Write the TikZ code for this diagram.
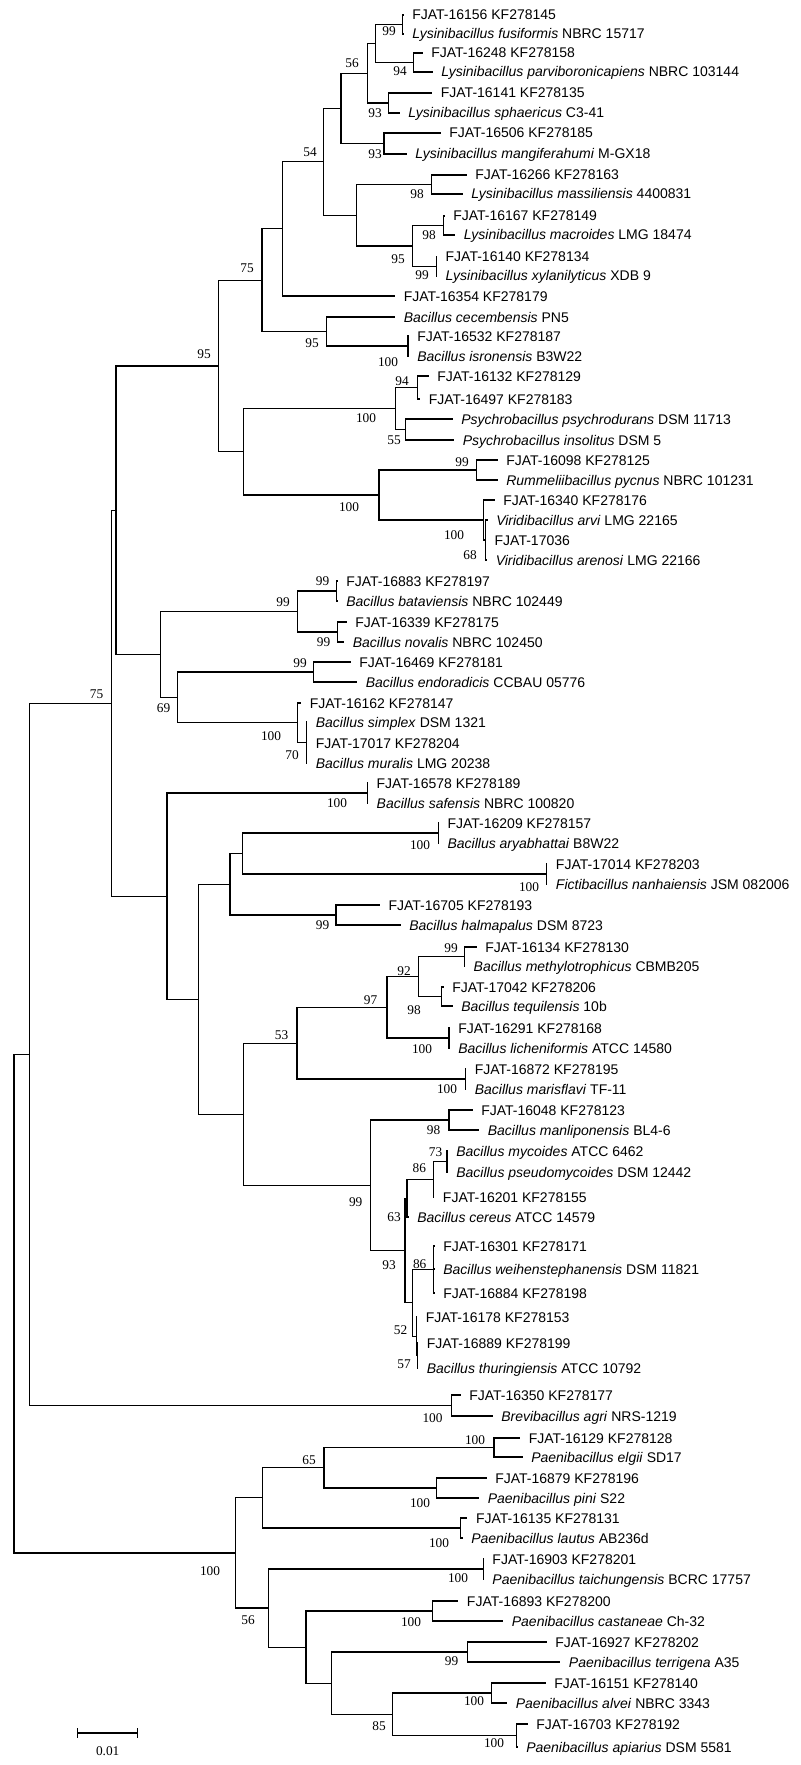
\documentclass[tikz,border=0pt]{standalone}
\usepackage{fontspec}
\setmainfont{Liberation Serif}
\setsansfont{Liberation Sans}
\usetikzlibrary{calc}
\newcommand{\spc}[1]{\textit{#1}}
\newcommand{\leafat}[4]{\coordinate (#1) at (#2,#3); \node[taxon] (#1l) at (#1) {#4};}
\newcommand{\clade}[4]{\path let \p1=(#3),\p2=(#4) in coordinate (#1) at ([yshift={0.5*(\y1+\y2)}]#2,0);
  \draw[branch] (#1) |- (#3) (#1) |- (#4);}
\newcommand{\cladethree}[5]{\path let \p1=(#3),\p2=(#5) in coordinate (#1) at ([yshift={0.5*(\y1+\y2)}]#2,0);
  \draw[branch] (#1) |- (#3) (#1) |- (#4) (#1) |- (#5);}
\begin{document}
\begin{tikzpicture}[x=0.75pt,y=-0.75pt,line join=miter,
    branch/.style={line width=0.85pt,line cap=rect},
    taxon/.style={anchor=west,xshift=6.75pt,inner sep=0pt,text height=7.5pt,text depth=0pt,font=\sffamily\fontsize{10.5}{12}\selectfont},
    boot/.style={inner sep=0pt,text height=6.8pt,text depth=0pt,font=\rmfamily\fontsize{10}{12}\selectfont}]
    \useasboundingbox (0,0) rectangle (800,1765);
    % leaves
    \leafat{t1}{403}{15}{FJAT-16156 KF278145}
    \leafat{t2}{403}{34}{\spc{Lysinibacillus fusiformis} NBRC 15717}
    \leafat{t3}{422}{53}{FJAT-16248 KF278158}
    \leafat{t4}{432}{72}{\spc{Lysinibacillus parviboronicapiens} NBRC 103144}
    \leafat{t5}{431.6}{93}{FJAT-16141 KF278135}
    \leafat{t6}{399}{113}{\spc{Lysinibacillus sphaericus} C3-41}
    \leafat{t7}{440}{133}{FJAT-16506 KF278185}
    \leafat{t8}{406}{154}{\spc{Lysinibacillus mangiferahumi} M-GX18}
    \leafat{t9}{466}{175}{FJAT-16266 KF278163}
    \leafat{t10}{462}{194}{\spc{Lysinibacillus massiliensis} 4400831}
    \leafat{t11}{444}{216}{FJAT-16167 KF278149}
    \leafat{t12}{454.6}{235}{\spc{Lysinibacillus macroides} LMG 18474}
    \leafat{t13}{436.4}{257}{FJAT-16140 KF278134}
    \leafat{t14}{436.4}{276}{\spc{Lysinibacillus xylanilyticus} XDB 9}
    \leafat{t15}{394.6}{296}{FJAT-16354 KF278179}
    \leafat{t16}{394.6}{317}{\spc{Bacillus cecembensis} PN5}
    \leafat{t17}{408}{336}{FJAT-16532 KF278187}
    \leafat{t18}{408}{356}{\spc{Bacillus isronensis} B3W22}
    \leafat{t19}{428}{376}{FJAT-16132 KF278129}
    \leafat{t20}{419.5}{399}{FJAT-16497 KF278183}
    \leafat{t21}{452}{419}{\spc{Psychrobacillus psychrodurans} DSM 11713}
    \leafat{t22}{453.6}{440}{\spc{Psychrobacillus insolitus} DSM 5}
    \leafat{t23}{497}{460}{FJAT-16098 KF278125}
    \leafat{t24}{497}{480}{\spc{Rummeliibacillus pycnus} NBRC 101231}
    \leafat{t25}{494}{500}{FJAT-16340 KF278176}
    \leafat{t26}{487}{520}{\spc{Viridibacillus arvi} LMG 22165}
    \leafat{t27}{485.4}{540}{FJAT-17036}
    \leafat{t28}{486.5}{560}{\spc{Viridibacillus arenosi} LMG 22166}
    \leafat{t29}{337}{581}{FJAT-16883 KF278197}
    \leafat{t30}{337}{601}{\spc{Bacillus bataviensis} NBRC 102449}
    \leafat{t31}{346}{622}{FJAT-16339 KF278175}
    \leafat{t32}{343.5}{642}{\spc{Bacillus novalis} NBRC 102450}
    \leafat{t33}{350}{662}{FJAT-16469 KF278181}
    \leafat{t34}{356.5}{682}{\spc{Bacillus endoradicis} CCBAU 05776}
    \leafat{t35}{300.5}{703}{FJAT-16162 KF278147}
    \leafat{t36}{306.6}{722}{\spc{Bacillus simplex} DSM 1321}
    \leafat{t37}{306.6}{743}{FJAT-17017 KF278204}
    \leafat{t38}{306.6}{763}{\spc{Bacillus muralis} LMG 20238}
    \leafat{t39}{367.4}{783}{FJAT-16578 KF278189}
    \leafat{t40}{367.4}{803}{\spc{Bacillus safensis} NBRC 100820}
    \leafat{t41}{438.3}{823}{FJAT-16209 KF278157}
    \leafat{t42}{438.3}{843}{\spc{Bacillus aryabhattai} B8W22}
    \leafat{t43}{546.7}{864}{FJAT-17014 KF278203}
    \leafat{t44}{546.7}{884}{\spc{Fictibacillus nanhaiensis} JSM 082006}
    \leafat{t45}{379.3}{905}{FJAT-16705 KF278193}
    \leafat{t46}{400}{925}{\spc{Bacillus halmapalus} DSM 8723}
    \leafat{t47}{476}{947}{FJAT-16134 KF278130}
    \leafat{t48}{464.4}{966}{\spc{Bacillus methylotrophicus} CBMB205}
    \leafat{t49}{443}{987}{FJAT-17042 KF278206}
    \leafat{t50}{452}{1006}{\spc{Bacillus tequilensis} 10b}
    \leafat{t51}{449}{1028}{FJAT-16291 KF278168}
    \leafat{t52}{449}{1048}{\spc{Bacillus licheniformis} ATCC 14580}
    \leafat{t53}{465.5}{1069}{FJAT-16872 KF278195}
    \leafat{t54}{465.5}{1089}{\spc{Bacillus marisflavi} TF-11}
    \leafat{t55}{472}{1110}{FJAT-16048 KF278123}
    \leafat{t56}{478.5}{1130}{\spc{Bacillus manliponensis} BL4-6}
    \leafat{t57}{447}{1151}{\spc{Bacillus mycoides} ATCC 6462}
    \leafat{t58}{447}{1172}{\spc{Bacillus pseudomycoides} DSM 12442}
    \leafat{t59}{433.7}{1197}{FJAT-16201 KF278155}
    \leafat{t60}{408}{1217}{\spc{Bacillus cereus} ATCC 14579}
    \leafat{t61}{434}{1246}{FJAT-16301 KF278171}
    \leafat{t62}{434}{1269}{\spc{Bacillus weihenstephanensis} DSM 11821}
    \leafat{t63}{434}{1293}{FJAT-16884 KF278198}
    \leafat{t64}{416.5}{1317}{FJAT-16178 KF278153}
    \leafat{t65}{417.5}{1343}{FJAT-16889 KF278199}
    \leafat{t66}{417.5}{1368}{\spc{Bacillus thuringiensis} ATCC 10792}
    \leafat{t67}{460}{1395}{FJAT-16350 KF278177}
    \leafat{t68}{492}{1416}{\spc{Brevibacillus agri} NRS-1219}
    \leafat{t69}{519.5}{1438}{FJAT-16129 KF278128}
    \leafat{t70}{522}{1457}{\spc{Paenibacillus elgii} SD17}
    \leafat{t71}{486}{1478}{FJAT-16879 KF278196}
    \leafat{t72}{478.5}{1498}{\spc{Paenibacillus pini} S22}
    \leafat{t73}{466.8}{1518}{FJAT-16135 KF278131}
    \leafat{t74}{462}{1538}{\spc{Paenibacillus lautus} AB236d}
    \leafat{t75}{483.2}{1559}{FJAT-16903 KF278201}
    \leafat{t76}{483.2}{1579}{\spc{Paenibacillus taichungensis} BCRC 17757}
    \leafat{t77}{457.7}{1601}{FJAT-16893 KF278200}
    \leafat{t78}{502.6}{1621}{\spc{Paenibacillus castaneae} Ch-32}
    \leafat{t79}{546}{1642}{FJAT-16927 KF278202}
    \leafat{t80}{559.7}{1662}{\spc{Paenibacillus terrigena} A35}
    \leafat{t81}{545}{1683}{FJAT-16151 KF278140}
    \leafat{t82}{506.6}{1703}{\spc{Paenibacillus alvei} NBRC 3343}
    \leafat{t83}{527}{1724}{FJAT-16703 KF278192}
    \leafat{t84}{517}{1747}{\spc{Paenibacillus apiarius} DSM 5581}
    % clades
    \clade{nA}{402.3}{t1}{t2}
    \clade{nC}{413.8}{t3}{t4}
    \clade{nB}{375.1}{nA}{nC}
    \clade{nF}{388.5}{t5}{t6}
    \clade{nE}{367.4}{nB}{nF}
    \clade{nH}{384}{t7}{t8}
    \clade{nG}{341}{nE}{nH}
    \clade{nL}{431.8}{t9}{t10}
    \clade{nN}{443.7}{t11}{t12}
    \clade{nO}{436.4}{t13}{t14}
    \clade{nM}{412.6}{nN}{nO}
    \clade{nJ}{356.5}{nL}{nM}
    \clade{nI}{323.4}{nG}{nJ}
    \clade{nK}{282.5}{nI}{t15}
    \clade{nR}{408}{t17}{t18}
    \clade{nQ}{326.5}{t16}{nR}
    \clade{nP}{262}{nK}{nQ}
    \clade{nW}{417.2}{t19}{t20}
    \clade{nX}{405.7}{t21}{t22}
    \clade{nU}{395.4}{nW}{nX}
    \clade{nY}{476.6}{t23}{t24}
    \cladethree{nZb}{485.4}{t26}{t27}{t28}
    \clade{nZ}{483.5}{t25}{nZb}
    \clade{nV}{379}{nY}{nZ}
    \clade{nT}{243.3}{nU}{nV}
    \clade{nS}{218.3}{nP}{nT}
    \clade{nAB}{336.7}{t29}{t30}
    \clade{nAC}{337.5}{t31}{t32}
    \clade{nAA}{297.3}{nAB}{nAC}
    \clade{nAF}{313.5}{t33}{t34}
    \cladethree{nAH}{306.6}{t36}{t37}{t38}
    \clade{nAG}{297.5}{t35}{nAH}
    \clade{nAE}{177.7}{nAF}{nAG}
    \clade{nAD}{160.7}{nAA}{nAE}
    \clade{nAI}{116}{nS}{nAD}
    \clade{nAM}{367.4}{t39}{t40}
    \clade{nAR}{438.3}{t41}{t42}
    \clade{nAS}{546.7}{t43}{t44}
    \clade{nAP}{242.1}{nAR}{nAS}
    \clade{nAQ}{336}{t45}{t46}
    \clade{nAO}{230}{nAP}{nAQ}
    \clade{nAZ}{464.4}{t47}{t48}
    \clade{nBA}{441.4}{t49}{t50}
    \clade{nAY}{418.4}{nAZ}{nBA}
    \clade{nBB}{449}{t51}{t52}
    \clade{nAW}{387}{nAY}{nBB}
    \clade{nAX}{465.5}{t53}{t54}
    \clade{nAU}{297}{nAW}{nAX}
    \clade{nBC}{449}{t55}{t56}
    \clade{nBE}{447}{t57}{t58}
    \clade{nBF}{433.7}{nBE}{t59}
    \clade{nBG}{407}{nBF}{t60}
    \cladethree{nBI}{433.7}{t61}{t62}{t63}
    \clade{nBL}{417.5}{t65}{t66}
    \clade{nBK}{416.5}{t64}{nBL}
    \clade{nBJ}{412.6}{nBI}{nBK}
    \clade{nBD}{405}{nBG}{nBJ}
    \clade{nAV}{370.5}{nBC}{nBD}
    \clade{nAT}{243.3}{nAU}{nAV}
    \clade{nAN}{198.3}{nAO}{nAT}
    \clade{nAL}{167}{nAM}{nAN}
    \clade{nAJ}{111.7}{nAI}{nAL}
    \clade{nBM}{451.5}{t67}{t68}
    \clade{nAK}{29.3}{nAJ}{nBM}
    \clade{nBS}{494}{t69}{t70}
    \clade{nBT}{436.2}{t71}{t72}
    \clade{nBQ}{324}{nBS}{nBT}
    \clade{nBR}{460.7}{t73}{t74}
    \clade{nBO}{262.8}{nBQ}{nBR}
    \clade{nBU}{483.2}{t75}{t76}
    \clade{nBW}{432.7}{t77}{t78}
    \clade{nBY}{467.9}{t79}{t80}
    \clade{nCA}{491.3}{t81}{t82}
    \clade{nCB}{516.8}{t83}{t84}
    \clade{nBZ}{392.9}{nCA}{nCB}
    \clade{nBX}{331.6}{nBY}{nBZ}
    \clade{nBV}{306}{nBW}{nBX}
    \clade{nBP}{268.9}{nBU}{nBV}
    \clade{nBN}{235.7}{nBO}{nBP}
    \clade{nroot}{14}{nAK}{nBN}
    % bootstrap values
    \foreach \bx/\by/\bv [count=\i] in {389/31/99, 400/71/94, 352/63/56, 375/113/93, 375/154/93, 310/152/54,
        417/194/98, 429/235/98, 398/259/95, 422/275/99, 247/268/75, 312/343/95, 388/362/100, 204/354/95,
        402/381/94, 366/418/100, 394/440/55, 462/462/99, 349/507/100, 454/535/100, 470/555/68,
        322.5/581/99, 283/602/99, 323.5/642/99, 300/663/99, 163.5/708/69, 271/736/100, 292/755/70,
        96.5/694/75, 337/803/100, 420/845/100, 529/887/100, 322.5/925/99, 451/948/99, 404/971/92,
        370.5/1000/97, 414/1010/98, 422/1049/100, 281.5/1035/53, 447/1089/100, 433.5/1130/98,
        435.6/1152/73, 419.3/1168/86, 394/1217/63, 355.7/1202/99, 389/1265/93, 419.7/1264/86,
        400.5/1330/52, 404/1364/57, 432.5/1418/100, 475/1440/100, 309/1460/65, 420/1503/100,
        439/1543/100, 210/1571/100, 458/1578/100, 248/1620/56, 411/1622/100, 451.5/1661/99,
        474/1701/100, 379/1726/85, 494/1743/100}
        \node[boot] (bs\i) at (\bx,\by) {\bv};
    % scale bar
    \coordinate (sbL) at (77.6,1733);
    \coordinate (sbR) at (137.8,1733);
    \draw[branch] (sbL) -- (sbR) ([yshift=3pt]sbL) -- ([yshift=-3pt]sbL) ([yshift=3pt]sbR) -- ([yshift=-3pt]sbR);
    \node[boot] (sbT) at (107.7,1751) {0.01};
\end{tikzpicture}
\end{document}
